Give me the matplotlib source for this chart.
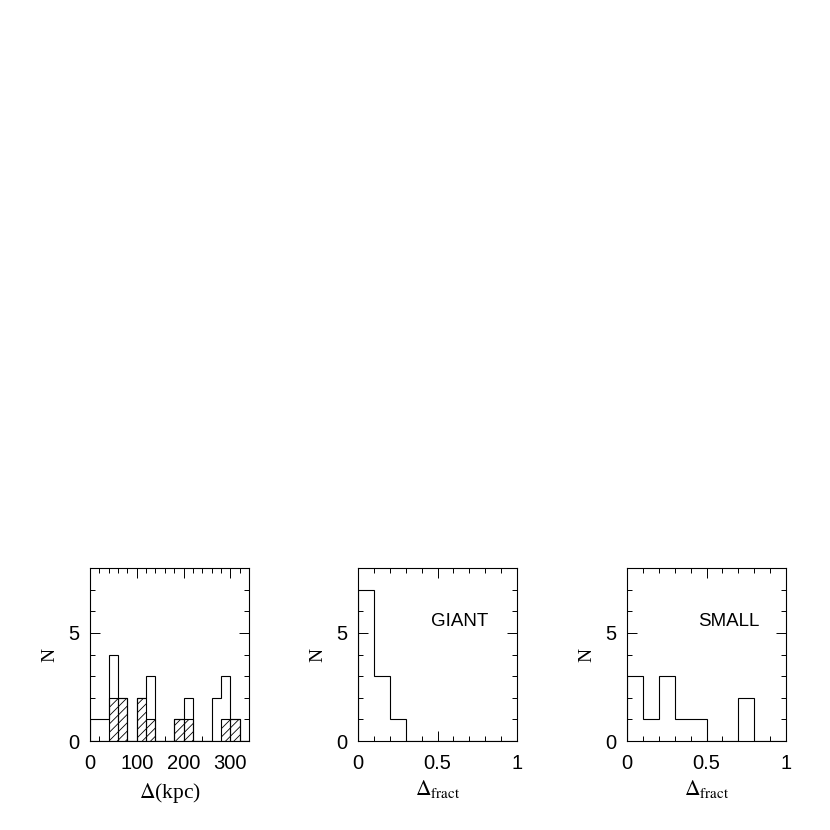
import numpy as np
import matplotlib
matplotlib.use('Agg')
import matplotlib.pyplot as plt
from matplotlib.ticker import MultipleLocator

plt.rcParams['font.family'] = 'Liberation Sans'
plt.rcParams['mathtext.fontset'] = 'stix'
plt.rcParams['hatch.linewidth'] = 0.6

# datos
kpc_edges = np.arange(0, 341, 20)
kpc_all = [1, 1, 4, 2, 0, 2, 3, 0, 0, 1, 2, 0, 0, 2, 3, 1, 0]
kpc_sub = [0, 0, 2, 2, 0, 2, 1, 0, 0, 1, 1, 0, 0, 0, 1, 1, 0]

fract_edges = np.round(np.arange(0, 1.01, 0.1), 1)
giant = [7, 3, 1, 0, 0, 0, 0, 0, 0, 0]
small = [3, 1, 3, 1, 1, 0, 0, 2, 0, 0]

fig = plt.figure(figsize=(8.3, 8.3), dpi=100)
W, H = 830, 830
lefts = [90, 358, 627]
ax_w, ax_top, ax_bot = 159, 568, 741

axes = [fig.add_axes([l / W, (H - ax_bot) / H, ax_w / W, (ax_bot - ax_top) / H])
        for l in lefts]


def estilo(ax, major, minor):
    ax.set_ylim(0, 8)
    ax.yaxis.set_major_locator(MultipleLocator(5))
    ax.yaxis.set_minor_locator(MultipleLocator(1))
    ax.xaxis.set_major_locator(MultipleLocator(major))
    ax.xaxis.set_minor_locator(MultipleLocator(minor))
    ax.tick_params(which='both', direction='in', top=True, right=True,
                   labelsize=14.5, width=0.7)
    ax.tick_params(axis='x', which='major', pad=9)
    ax.tick_params(axis='y', which='major', pad=8)
    ax.tick_params(which='major', length=7)
    ax.tick_params(which='minor', length=3.5)
    for s in ax.spines.values():
        s.set_linewidth(0.8)
    ax.set_ylabel('N', family='Liberation Serif', fontsize=14, labelpad=7)


# panel 1
ax = axes[0]
ax.stairs(kpc_all, kpc_edges, color='black', lw=0.8, baseline=0)
ax.bar(kpc_edges[:-1], kpc_sub, width=20, align='edge', fill=False,
       hatch='////', edgecolor='black', lw=0.8)
ax.set_xlim(0, 340)
estilo(ax, 100, 20)
ax.set_xticks([0, 100, 200, 300])
ax.set_xticklabels(['0', '100', '200', '300'])
ax.set_xlabel(r'$\Delta$(kpc)', family='Liberation Serif', fontsize=15.5, labelpad=6)

# paneles 2 y 3
for ax, vals, nombre in [(axes[1], giant, 'GIANT'), (axes[2], small, 'SMALL')]:
    ax.stairs(vals, fract_edges, color='black', lw=0.8, baseline=0)
    ax.set_xlim(0, 1)
    estilo(ax, 0.5, 0.1)
    ax.set_xticks([0, 0.5, 1])
    ax.set_xticklabels(['0', '0.5', '1'])
    ax.set_xlabel(r'$\Delta_{\rm fract}$', fontsize=15.5, labelpad=4)
    ax.text(0.64, 0.69, nombre, transform=ax.transAxes, fontsize=13.5,
            ha='center', va='center')

for lab in axes[0].get_yticklabels() + axes[1].get_yticklabels() + axes[2].get_yticklabels():
    lab.set_va('center_baseline')

fig.savefig('out.png', dpi=100)
